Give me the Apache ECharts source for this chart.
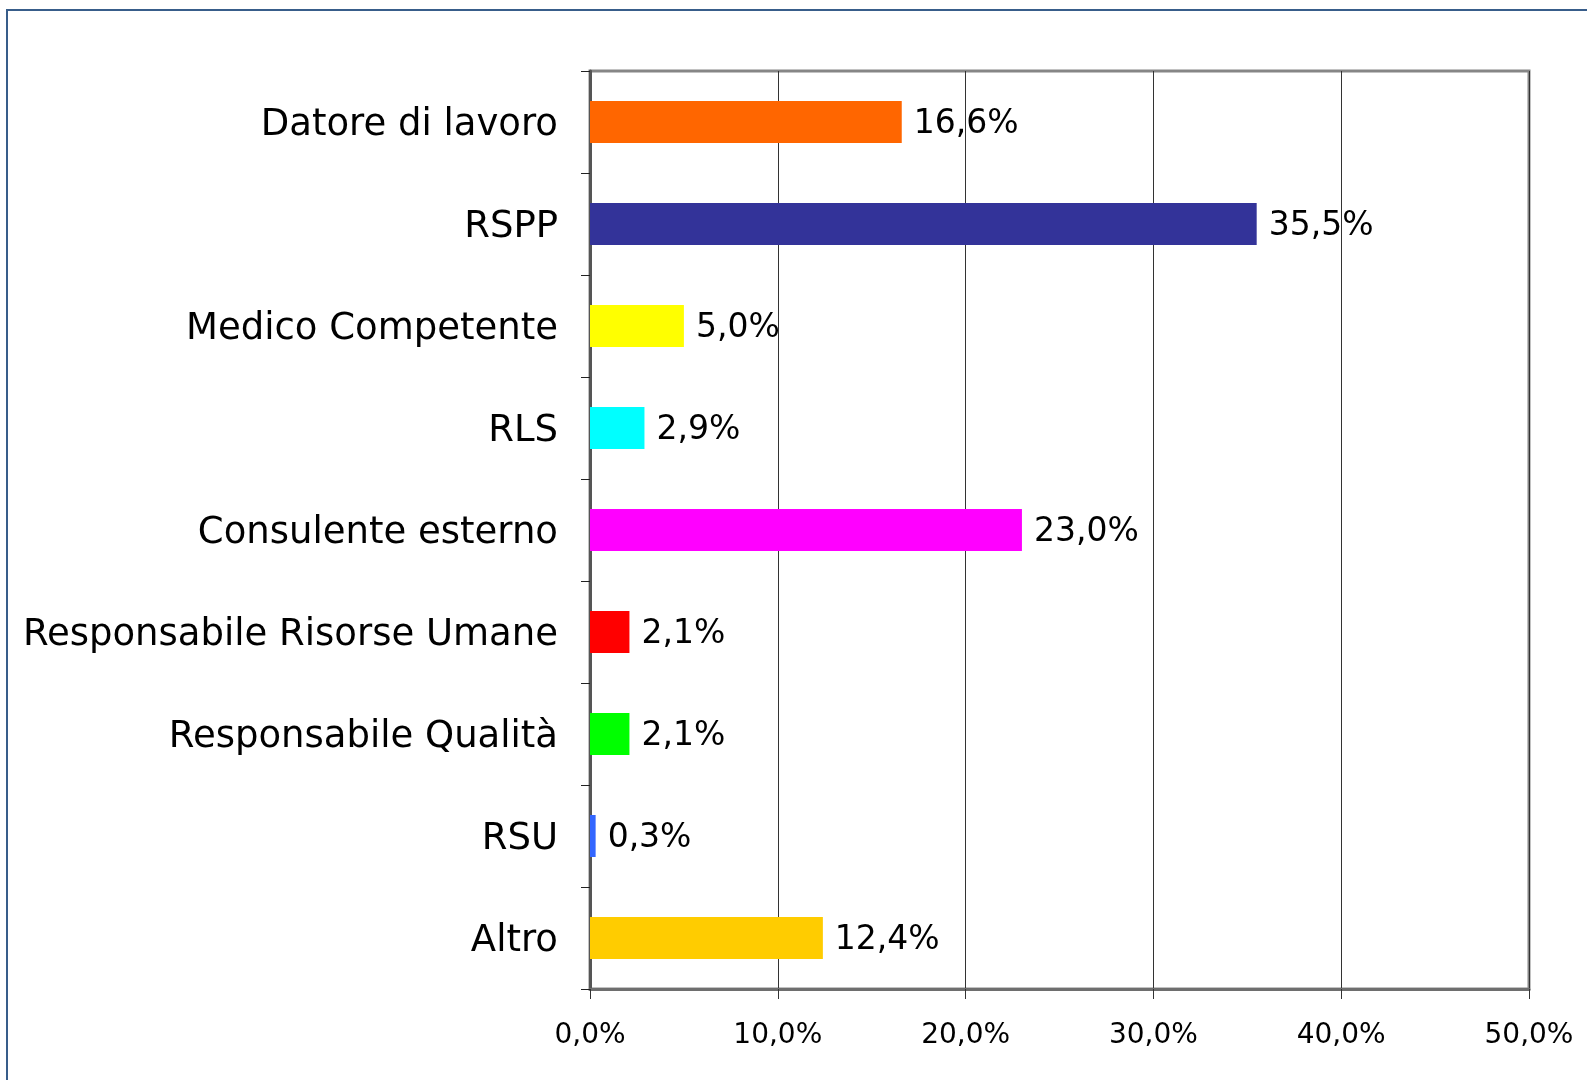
<!DOCTYPE html>
<html><head><meta charset="utf-8">
<script src="https://cdn.jsdelivr.net/npm/echarts@6/dist/echarts.min.js"></script>
<style>html,body{margin:0;padding:0;background:#fff}#c{width:1587px;height:1080px}</style>
</head><body><div id="c"></div>
<script>
const categories = ["Datore di lavoro","RSPP","Medico Competente","RLS","Consulente esterno","Responsabile Risorse Umane","Responsabile Qualità","RSU","Altro"];
const values = [16.6, 35.5, 5.0, 2.9, 23.0, 2.1, 2.1, 0.3, 12.4];
const barColors = ["#FF6600","#333399","#FFFF00","#00FFFF","#FF00FF","#FF0000","#00FF00","#3366FF","#FFCC00"];
const xTicks = [0, 10, 20, 30, 40, 50];

const FONT = "DejaVu Sans";
const fmt = v => v.toFixed(1).replace('.', ',') + '%';
const chart = echarts.init(document.getElementById('c'));
chart.setOption({
  animation: false,
  backgroundColor: '#fff',
  graphic: [{type:'rect', shape:{x:7,y:10,width:1700,height:1200}, style:{fill:'none', stroke:'#385D8A', lineWidth:2}, silent:true, z:-1}],
  grid: {left: 590, right: 58, top: 71, bottom: 91, show: true, borderColor: '#868686', borderWidth: 3, backgroundColor:'transparent'},
  xAxis: {
    type: 'value', min: xTicks[0], max: xTicks[xTicks.length-1], interval: 10,
    axisLine: {show: true, lineStyle: {color: '#6e6e6e', width: 3}},
    axisTick: {show: true, length: 10, lineStyle: {color: '#333', width: 1}},
    axisLabel: {formatter: v => fmt(v), fontFamily: FONT, fontSize: 28, color: '#000', margin: 33},
    splitLine: {show: true, lineStyle: {color: '#333', width: 1}}
  },
  yAxis: {
    type: 'category', data: categories, inverse: true,
    axisLine: {show: true, lineStyle: {color: '#555', width: 3}},
    axisTick: {show: true, length: 9, lineStyle: {color: '#222', width: 1}},
    axisLabel: {
      formatter: v => '{a|' + v + '}',
      margin: 32,
      rich: {a: {fontFamily: FONT, fontSize: 37, color: '#000', padding: [6, 0, 0, 0]}}
    },
    splitLine: {show: false}
  },
  series: [{
    type: 'bar', barWidth: 42,
    data: values.map((v,i) => ({value: v, itemStyle: {color: barColors[i]}})),
    label: {show: true, position: 'right', distance: 12, formatter: p => fmt(p.value), fontFamily: FONT, fontSize: 33, color: '#000', offset: [0, 2]}
  }]
});
</script></body></html>
